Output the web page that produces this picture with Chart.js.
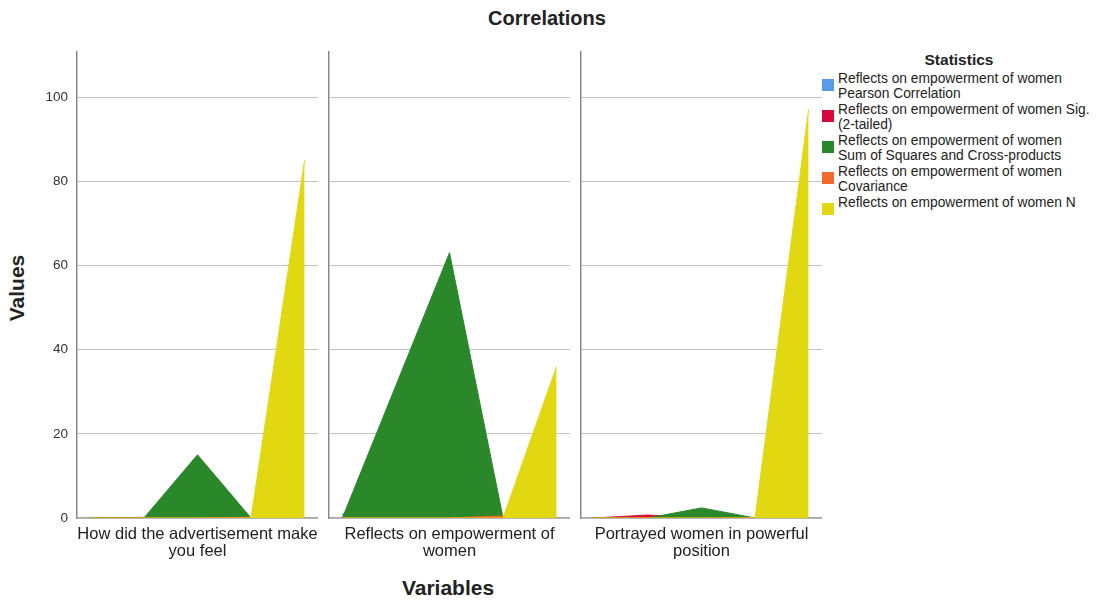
<!DOCTYPE html>
<html>
<head>
<meta charset="utf-8">
<script src="https://cdn.jsdelivr.net/npm/chart.js@4/dist/chart.umd.min.js"></script>
<style>
  body { margin: 0; background: #fff; font-family: "Liberation Sans", Arial, sans-serif; color: #222; }
  #wrap { position: relative; width: 1108px; height: 600px; overflow: hidden; }
  canvas { position: absolute; top: 0; }
  .title { position: absolute; font-weight: bold; white-space: nowrap; line-height: 24px; }
  #legend { position: absolute; left: 822px; top: 51px; width: 286px; font-size: 13.8px; }
  #legend .head { font-weight: bold; font-size: 15.5px; text-align: center; margin-left: 10px; width: 254px; height: 21px; }
  #legend .item { position: relative; padding-left: 16px; width: 253px; line-height: 14.5px; margin-bottom: 2px; }
  #legend .sw { position: absolute; left: 0; top: 7px; width: 12px; height: 12px; }
</style>
</head>
<body>
<div id="wrap">
  <div class="title" style="left:447px;width:200px;top:6px;text-align:center;font-size:20px;">Correlations</div>
  <div class="title" style="left:348px;width:200px;top:576px;text-align:center;font-size:21px;">Variables</div>
  <div class="title" style="left:-33px;width:100px;top:276px;text-align:center;font-size:21px;transform:rotate(-90deg);">Values</div>
  <canvas id="p0" width="298" height="600" style="left:20px"></canvas>
  <canvas id="p1" width="251" height="600" style="left:319px"></canvas>
  <canvas id="p2" width="251" height="600" style="left:571px"></canvas>
  <div id="legend"><div class="head">Statistics</div></div>
</div>
<script>
// statistics shown as colours, variables as panels
const statistics = ['Pearson Correlation', 'Sig. (2-tailed)', 'Sum of Squares and Cross-products', 'Covariance', 'N'];
const legendPrefix = 'Reflects on empowerment of women';
const variables = [
  ['How did the advertisement make', 'you feel'],
  ['Reflects on empowerment of', 'women'],
  ['Portrayed women in powerful', 'position']
];
const pearson = [0.16, 1, 0.1];
const sig = [0.15, null, 0.7];
const sumSquares = [15, 63, 2.4];
const covariance = [0.18, 0.5, 0.03];
const nValues = [85, 36, 97];
const yTicks = [0, 20, 40, 60, 80, 100];
const colors = ['#5a9aea', '#d7083c', '#2a872a', '#f26a2c', '#e2d812'];

const series = [pearson, sig, sumSquares, covariance, nValues];

function buildDatasets(p) {
  return statistics.map((stat, k) => ({
    label: legendPrefix + ' ' + stat,
    data: statistics.map((_, i) => {
      if (i === 1 && sig[p] === null) return { x: i, y: null };
      return { x: i, y: i === k ? series[k][p] : 0 };
    }),
    backgroundColor: colors[k],
    borderColor: colors[k],
    borderWidth: 1,
    pointRadius: 0,
    fill: 'origin',
    spanGaps: true,
    tension: 0,
    order: 5 - k
  }));
}

function makePanel(p) {
  const first = p === 0;
  new Chart(document.getElementById('p' + p), {
    type: 'line',
    data: { datasets: buildDatasets(p) },
    options: {
      responsive: false,
      animation: false,
      layout: { padding: { top: 52, left: 0, right: 0, bottom: 0 } },
      plugins: { legend: { display: false }, tooltip: { enabled: false } },
      scales: {
        x: {
          type: 'linear',
          min: -0.25,
          max: 4.25,
          grid: { display: false, drawTicks: false },
          border: { display: true, color: '#a8a8a8', width: 1.5 },
          ticks: { display: false },
          title: {
            display: true,
            text: variables[p],
            color: '#222',
            font: { family: '"Liberation Sans", Arial, sans-serif', size: 16.5, lineHeight: 1.05 },
            padding: { top: 0, bottom: 40 }
          },
          afterFit: (scale) => { scale.height = 82; }
        },
        y: {
          min: 0,
          max: 110.7,
          afterBuildTicks: (scale) => { scale.ticks = yTicks.map(v => ({ value: v })); },
          ticks: {
            display: first,
            color: '#333',
            padding: 9,
            font: { family: '"Liberation Sans", Arial, sans-serif', size: 13.5 }
          },
          grid: { color: '#c4c4c4', lineWidth: 1, drawTicks: false },
          border: { display: true, color: '#8a8a8a', width: 1.5 },
          afterFit: (scale) => { scale.width = first ? 57 : 10; }
        }
      }
    }
  });
}

[0, 1, 2].forEach(makePanel);

const legend = document.getElementById('legend');
statistics.forEach((stat, k) => {
  const item = document.createElement('div');
  item.className = 'item';
  item.innerHTML = '<span class="sw" style="background:' + colors[k] + '"></span>' + legendPrefix + ' ' + stat;
  legend.appendChild(item);
});
</script>
</body>
</html>
